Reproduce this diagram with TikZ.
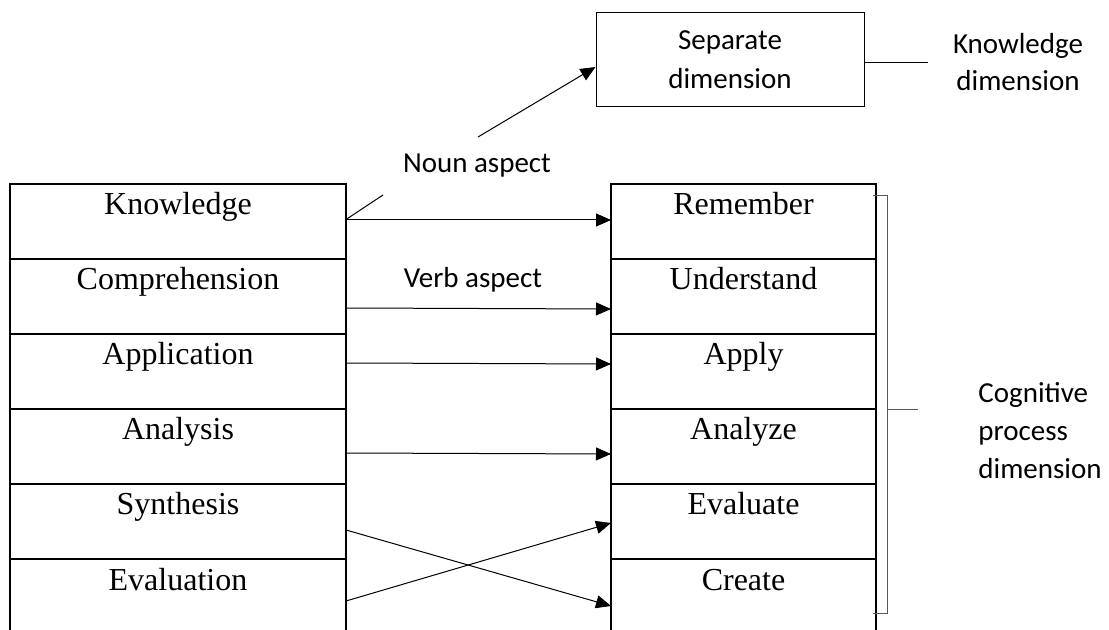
\documentclass[tikz,border=0pt]{standalone}
\usepackage{fontspec}
\setmainfont{Liberation Serif}
\newfontfamily\calfont{Carlito}
\usetikzlibrary{arrows.meta}
\begin{document}
\begin{tikzpicture}[x=0.5pt,y=-0.5pt,
  cellbase/.style={draw, line width=0.75pt, inner xsep=0pt, inner ysep=0pt, outer sep=0pt,
    minimum height=37.5pt, text height=15.5pt, text depth=22pt,
    font=\fontsize{16}{19}\selectfont},
  lcell/.style={cellbase, minimum width=168pt},
  rcell/.style={cellbase, minimum width=132.5pt},
  lab/.style={font=\calfont\fontsize{14.5}{18.5}\selectfont, inner sep=0pt},
  arr/.style={line width=0.5pt, -{Triangle[length=7.5pt,width=6.5pt]}},
  ln/.style={line width=0.5pt},
  brk/.style={line width=0.5pt, draw=black!65},
  sbox/.style={draw, line width=0.5pt, minimum width=134pt, minimum height=47pt, align=center,
    font=\calfont\fontsize{14.5}{19.5}\selectfont, inner sep=0pt}
]
\useasboundingbox (0,0) rectangle (1109,630);

% left column
\node[lcell] (k)  at (178,221.5) {Knowledge};
\node[lcell] (c)  at (178,296.5) {Comprehension};
\node[lcell] (ap) at (178,371.5) {Application};
\node[lcell] (an) at (178,446.5) {Analysis};
\node[lcell] (sy) at (178,521.5) {Synthesis};
\node[lcell] (ev) at (178,596.5) {Evaluation};

% right column
\node[rcell] (re) at (743.5,221.5) {Remember};
\node[rcell] (un) at (743.5,296.5) {Understand};
\node[rcell] (apl) at (743.5,371.5) {Apply};
\node[rcell] (anz) at (743.5,446.5) {Analyze};
\node[rcell] (eva) at (743.5,521.5) {Evaluate};
\node[rcell] (cr) at (743.5,596.5) {Create};

% top box and labels
\node[sbox] (sd) at (730,60) {Separate\\dimension};
\node[lab, align=center] (kd) at (1018,62) {Knowledge\\dimension};
\node[lab, anchor=base] (na) at (477,173) {Noun aspect};
\node[lab, anchor=base] (va) at (473,288) {Verb aspect};
\node[lab, align=left, anchor=west, font=\calfont\fontsize{14.5}{19}\selectfont] (cp) at (978,431) {Cognitive\\process\\dimension};

\coordinate (kdl) at (928,63);
\coordinate (nastart) at (478,137);
\coordinate (nptip) at (383,195);

% connectors
\draw[ln] ([yshift=-1.5pt]sd.east) -- (kdl);
\draw[arr] (nastart) -- ([yshift=-3.5pt]sd.west);
\draw[ln] ([yshift=1pt]k.east) -- (nptip);

\draw[arr] ([yshift=0.75pt]k.east) -- ([yshift=0.75pt]re.west);
\draw[arr] ([yshift=-5.75pt]c.east) -- ([yshift=-6.25pt]un.west);
\draw[arr] ([yshift=4.25pt]ap.east) -- ([yshift=3.75pt]apl.west);
\draw[arr] ([yshift=-3.25pt]an.east) -- ([yshift=-3.75pt]anz.west);
\draw[arr] ([yshift=-4.25pt]sy.east) -- ([yshift=-4.75pt]cr.west);
\draw[arr] ([yshift=-2.25pt]ev.east) -- ([yshift=-0.75pt]eva.west);

% bracket
\draw[brk] (873,196) -- (887,196) -- (887,613) -- (873,613);
\draw[brk] (887,410) -- (918,410);
\end{tikzpicture}
\end{document}
